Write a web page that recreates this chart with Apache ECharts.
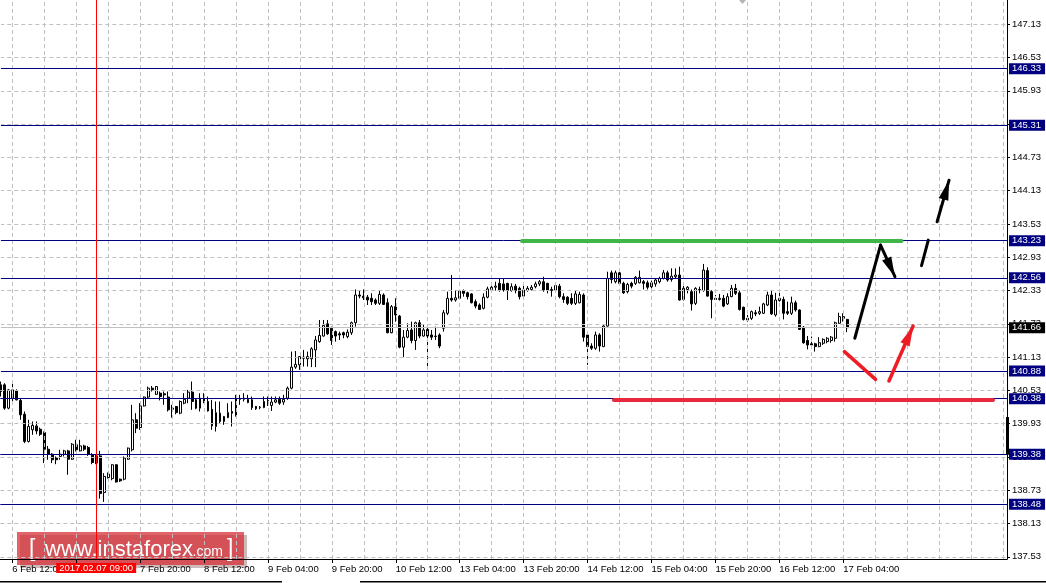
<!DOCTYPE html>
<html>
<head>
<meta charset="utf-8">
<script src="https://cdn.jsdelivr.net/npm/echarts@6.0.0/dist/echarts.min.js"></script>
<style>
html,body{margin:0;padding:0;background:#fff;overflow:hidden}
#chart{width:1046px;height:583px}
</style>
</head>
<body>
<div id="chart"></div>
<script>
// ---------------- data ----------------
const startHourUTC = Date.UTC(2017, 1, 6, 9, 0);   // first H1 bar: 2017.02.06 09:00
const slotCount = 253;                              // bars + empty future slots
const opens = [140.63,140.63,140.21,140.39,140.52,140.35,140.10,139.61,139.82,139.89,
139.83,139.77,139.47,139.38,139.32,139.34,139.38,139.44,139.29,139.55,
139.44,139.53,139.50,139.37,139.35,139.35,138.69,138.96,138.94,139.19,
138.93,138.93,139.29,139.46,140.00,139.86,140.25,140.41,140.57,140.46,
140.48,140.47,140.41,140.21,140.24,140.12,140.30,140.39,140.50,140.36,
140.21,140.40,140.33,140.19,139.88,140.12,139.97,140.04,140.15,140.07,
140.38,140.37,140.31,140.36,140.24,140.22,140.22,140.35,140.26,140.32,
140.37,140.32,140.39,140.57,140.95,140.99,141.13,141.10,141.10,141.26,
141.41,141.51,141.73,141.65,141.59,141.55,141.57,141.50,141.57,141.75,
142.25,142.23,142.21,142.19,142.16,142.10,142.25,142.11,141.57,142.04,
141.87,141.31,141.49,141.62,141.43,141.75,141.51,141.63,141.53,141.50,
141.53,141.65,141.92,142.19,142.16,142.19,142.33,142.29,142.27,142.13,
142.07,142.01,142.21,142.35,142.39,142.46,142.45,142.46,142.33,142.41,
142.37,142.23,142.33,142.35,142.40,142.45,142.49,142.46,142.35,142.34,
142.41,142.22,142.21,142.19,142.10,142.11,142.25,141.53,141.33,141.29,
141.53,141.32,141.69,142.65,142.49,142.65,142.46,142.31,142.46,142.46,
142.47,142.49,142.47,142.40,142.45,142.49,142.55,142.65,142.53,142.58,
142.61,142.17,142.35,142.31,142.10,142.34,142.33,142.69,142.31,142.19,
142.17,142.19,142.09,142.22,142.37,142.29,142.03,141.83,141.83,141.93,
141.92,141.92,142.07,142.25,141.89,142.15,142.17,141.95,141.92,142.11,
141.98,141.67,141.43,141.37,141.37,141.32,141.38,141.41,141.43,141.47,
141.74,141.86,141.81];
const closes = [140.51,140.21,140.54,140.54,140.36,140.09,139.61,139.88,139.90,139.80,
139.74,139.47,139.38,139.28,139.28,139.38,139.44,139.29,139.56,139.46,
139.53,139.47,139.38,139.23,139.22,138.67,138.98,139.02,139.19,138.88,
138.90,139.31,139.49,140.00,139.85,140.25,140.41,140.57,140.54,140.60,
140.42,140.45,140.18,140.19,140.13,140.33,140.37,140.50,140.33,140.21,
140.39,140.33,140.16,139.89,140.13,139.97,140.06,140.13,140.12,140.38,
140.37,140.39,140.37,140.22,140.20,140.23,140.33,140.27,140.32,140.36,
140.30,140.37,140.57,140.95,141.00,141.14,141.11,141.14,141.28,141.44,
141.52,141.70,141.55,141.43,141.51,141.53,141.53,141.58,141.75,142.25,
142.23,142.20,142.16,142.13,142.10,142.26,142.08,141.57,142.04,141.89,
141.31,141.49,141.61,141.43,141.75,141.51,141.62,141.51,141.49,141.51,
141.33,141.93,142.19,142.16,142.20,142.32,142.28,142.22,142.11,142.05,
141.99,142.21,142.36,142.39,142.41,142.34,142.34,142.33,142.40,142.33,
142.22,142.34,142.37,142.39,142.45,142.49,142.34,142.34,142.33,142.42,
142.22,142.17,142.10,142.10,142.27,142.26,141.49,141.32,141.29,141.53,
141.33,141.69,142.55,142.53,142.65,142.46,142.29,142.44,142.41,142.57,
142.57,142.46,142.39,142.47,142.52,142.55,142.65,142.52,142.59,142.61,
142.16,142.37,142.39,142.09,142.37,142.35,142.70,142.23,142.17,142.17,
142.19,142.05,142.22,142.37,142.28,141.99,141.81,141.80,141.95,141.91,
141.95,142.09,142.25,141.91,142.16,142.19,141.92,141.92,142.11,141.98,
141.63,141.39,141.35,141.35,141.32,141.39,141.45,141.47,141.49,141.75,
141.86,141.83,141.66];
const lows = [140.42,140.18,140.19,140.30,140.35,140.00,139.58,139.59,139.73,139.74,
139.71,139.22,139.28,139.22,139.20,139.28,139.34,139.01,139.28,139.43,
139.43,139.44,139.35,139.20,139.20,138.58,138.52,138.94,138.91,138.87,
138.88,138.91,139.28,139.43,139.76,139.82,140.24,140.39,140.51,140.45,
140.35,140.27,140.15,140.04,140.10,140.10,140.28,140.30,140.18,140.19,
140.15,140.30,140.15,139.82,139.79,139.94,139.91,140.03,139.88,140.06,
140.27,140.33,140.30,140.18,140.18,140.19,140.21,140.25,140.16,140.30,
140.27,140.27,140.36,140.55,140.92,140.90,140.96,140.96,140.95,140.95,
141.39,141.50,141.53,141.35,141.41,141.44,141.47,141.47,141.53,141.68,
142.19,142.16,142.07,142.07,142.07,142.07,142.07,141.56,141.56,141.77,
141.29,141.13,141.47,141.38,141.26,141.47,141.50,140.96,141.44,141.44,
141.29,141.59,141.89,142.13,142.13,142.16,142.22,142.17,142.10,142.01,
141.98,141.99,142.19,142.33,142.33,142.31,142.31,142.16,142.31,142.28,
142.17,142.21,142.31,142.33,142.37,142.41,142.31,142.28,142.22,142.31,
142.19,142.11,142.07,142.07,142.07,142.10,141.41,140.99,141.26,141.26,
141.23,141.31,141.68,142.46,142.46,142.43,142.27,142.28,142.37,142.43,
142.46,142.35,142.35,142.37,142.40,142.46,142.53,142.49,142.49,142.55,
142.15,142.15,142.28,141.97,142.07,142.28,142.31,142.22,141.83,142.16,
142.15,142.03,142.07,142.21,142.25,141.97,141.79,141.77,141.80,141.87,
141.89,141.91,142.05,141.89,141.86,142.13,141.81,141.89,141.89,141.95,
141.62,141.37,141.27,141.32,141.23,141.31,141.35,141.38,141.39,141.41,
141.73,141.77,141.58];
const highs = [140.69,140.66,140.55,140.66,140.55,140.39,140.15,140.00,139.97,139.97,
139.86,139.79,139.53,139.40,139.34,139.46,139.46,139.46,139.58,139.64,
139.64,139.55,139.53,139.40,139.37,139.44,139.04,139.05,139.20,139.20,
138.94,139.34,139.50,140.27,140.12,140.30,140.42,140.60,140.61,140.61,
140.51,140.51,140.51,140.27,140.25,140.35,140.48,140.54,140.69,140.39,
140.48,140.48,140.42,140.36,140.33,140.33,140.07,140.30,140.33,140.45,
140.45,140.48,140.45,140.42,140.25,140.25,140.42,140.42,140.42,140.42,
140.42,140.45,140.60,141.23,141.24,141.15,141.26,141.23,141.31,141.51,
141.80,141.80,141.80,141.68,141.61,141.59,141.59,141.63,141.77,142.35,
142.34,142.35,142.25,142.28,142.19,142.33,142.28,142.19,142.07,142.19,
141.89,141.62,141.74,141.77,141.77,141.80,141.71,141.68,141.62,141.68,
141.56,141.98,142.31,142.61,142.34,142.34,142.35,142.31,142.28,142.17,
142.10,142.28,142.40,142.46,142.49,142.55,142.55,142.47,142.46,142.45,
142.40,142.43,142.41,142.43,142.49,142.52,142.58,142.47,142.40,142.45,
142.45,142.28,142.23,142.28,142.34,142.31,142.28,141.56,141.38,141.59,
141.56,141.71,142.67,142.69,142.69,142.70,142.49,142.47,142.49,142.59,
142.69,142.52,142.51,142.51,142.55,142.58,142.70,142.69,142.73,142.73,
142.76,142.46,142.41,142.35,142.39,142.40,142.81,142.75,142.34,142.25,
142.27,142.25,142.28,142.43,142.45,142.33,142.04,141.89,141.97,141.98,
142.04,142.11,142.31,142.34,142.29,142.31,142.22,142.13,142.22,142.15,
141.99,141.69,141.51,141.50,141.39,141.49,141.47,141.49,141.51,141.77,
141.93,141.92,141.82];
const yTicks = [137.53,138.13,138.73,139.33,139.93,140.53,141.13,141.73,142.33,
142.93,143.53,144.13,144.73,145.33,145.93,146.53,147.13];
const levelLines = [146.33, 145.31, 143.23, 142.56, 140.88, 140.38, 139.38, 138.48];
const currentPrice = 141.66;
const crosshairIndex = 24;
const yRange = [137.491, 147.568];
// hand-drawn annotations, points as [bar index, price]
const greenLevel = [[130.6, 143.23], [225.6, 143.23]];
const redLevel = [[153.6, 140.37], [248.5, 140.37]];
const blackPath = [[213.9, 141.47], [220.35, 143.15], [223.95, 142.58]];
const blackDash = [[230.6, 142.78], [232.3, 143.24]];
const blackArrow2 = [[234.5, 143.57], [237.5, 144.32]];
const redSeg = [[211.3, 141.23], [219.1, 140.73]];
const redArrow = [[222.45, 140.70], [228.5, 141.69]];
const spreadBar = [140.05, 139.37];

// ---------------- build ----------------
const MONTHS = ['Jan','Feb','Mar','Apr','May','Jun','Jul','Aug','Sep','Oct','Nov','Dec'];
function pad(n){ return (n < 10 ? '0' : '') + n; }
const times = [];
for (let t = startHourUTC; times.length < slotCount; t += 3600000) {
  const wd = new Date(t).getUTCDay();
  if (wd !== 0 && wd !== 6) times.push(t);
}
const categories = times.map(t => {
  const d = new Date(t);
  return d.getUTCDate() + ' ' + MONTHS[d.getUTCMonth()] + ' ' + pad(d.getUTCHours()) + ':' + pad(d.getUTCMinutes());
});
function fullStamp(t) {
  const d = new Date(t);
  return d.getUTCFullYear() + '.' + pad(d.getUTCMonth() + 1) + '.' + pad(d.getUTCDate()) + ' ' +
    pad(d.getUTCHours()) + ':' + pad(d.getUTCMinutes());
}
const lastBar = opens.length - 1;
const candleData = opens.map((o, i) => [o, closes[i], lows[i], highs[i]]);
// vertical grid every 8 bars, aligned with the time labels
const xGridIdx = [];
for (let i = 3; i < slotCount; i += 8) xGridIdx.push(i);

const FONT = 'Liberation Sans';
const FS = 9.5;

function seg(p, q, color, width, arrow) {
  const a = { coord: p, lineStyle: { color: color, width: width, type: 'solid', cap: 'round' } };
  const b = { coord: q };
  if (arrow) {
    b.symbol = 'path://M5,0 L10,20 L0,20 Z';
    b.symbolSize = [10, 20];
    b.symbolOffset = [0, 10];
  }
  return [a, b];
}

const chart = echarts.init(document.getElementById('chart'), null, { renderer: 'canvas' });
const option = {
  animation: false,
  backgroundColor: '#ffffff',
  textStyle: { fontFamily: FONT },
  grid: { left: 0.3, right: 39, top: 0, bottom: 24, containLabel: false },
  xAxis: [{
    type: 'category', data: categories, boundaryGap: false,
    axisLine: { show: true, onZero: false, lineStyle: { color: '#000', width: 1 } },
    axisTick: { show: true, length: 4, lineStyle: { color: '#000' },
      interval: (i) => (i - 3) % 16 === 0 && i <= lastBar },
    axisLabel: { show: true, color: '#000', fontSize: FS, fontFamily: FONT, align: 'left', margin: 5,
      interval: (i) => (i - 3) % 16 === 0 && i <= lastBar },
    splitLine: { show: false }
  }, {
    type: 'value', min: 0, max: slotCount - 1, show: false,
    axisLine: { show: false, onZero: false },
    splitLine: { show: false }
  }],
  yAxis: {
    type: 'value', position: 'right', min: yRange[0], max: yRange[1], scale: true,
    axisLine: { show: true, onZero: false, lineStyle: { color: '#000', width: 1 } },
    axisTick: { show: true, length: 3, customValues: yTicks, lineStyle: { color: '#000' } },
    axisLabel: { show: true, customValues: yTicks, color: '#000', fontSize: FS, fontFamily: FONT, margin: 5,
      formatter: v => Number(v).toFixed(2) },
    splitLine: { show: false }
  },
  series: [
    { // price/time grid + current price line
      type: 'line', xAxisIndex: 1, yAxisIndex: 0, data: [], z: 1, silent: true,
      markLine: {
        silent: true, symbol: 'none', animation: false,
        lineStyle: { color: '#c0c0c0', type: [4, 3], width: 1 },
        label: { show: false },
        emphasis: { disabled: true },
        data: yTicks.map(v => ({ yAxis: v }))
          .concat(xGridIdx.map(i => ({ xAxis: i })))
          .concat([{
          yAxis: currentPrice,
          lineStyle: { color: '#c0c0c0', type: 'solid', width: 1 },
          label: { show: true, position: 'end', distance: 2, formatter: () => currentPrice.toFixed(2),
            backgroundColor: '#000', color: '#fff', fontSize: FS, fontFamily: FONT,
            padding: [1, 4, 0, 3], lineHeight: 10 }
        }])
      }
    },
    {
      type: 'candlestick', xAxisIndex: 0, yAxisIndex: 0, z: 2, data: candleData,
      barWidth: 2.4, silent: true,
      itemStyle: { color: '#ffffff', color0: '#000000', borderColor: '#000000', borderColor0: '#000000', borderWidth: 1 }
    },
    { // horizontal levels and crosshair
      type: 'line', xAxisIndex: 1, yAxisIndex: 0, data: [], z: 3, silent: true,
      markLine: {
        silent: true, symbol: 'none', animation: false,
        emphasis: { disabled: true },
        lineStyle: { color: '#000080', type: 'solid', width: 1 },
        label: { show: true, position: 'end', distance: 2,
          formatter: p => Number(p.value).toFixed(2),
          backgroundColor: '#000080', color: '#fff', fontSize: FS, fontFamily: FONT,
          padding: [1, 4, 0, 3], lineHeight: 10 },
        data: levelLines.map(v => ({ yAxis: v })).concat([{
          xAxis: crosshairIndex,
          lineStyle: { color: '#ff0000', width: 1, type: 'solid' },
          label: { show: true, position: 'start', distance: 4,
            formatter: () => fullStamp(times[crosshairIndex]),
            backgroundColor: '#ff0000', color: '#fff', fontSize: FS, fontFamily: FONT,
            padding: [1, 3, 0, 3], lineHeight: 9 }
        }])
      }
    },
    { // hand-drawn annotations
      type: 'line', xAxisIndex: 1, yAxisIndex: 0, data: [], z: 4, silent: true,
      markLine: {
        silent: true, symbol: 'none', animation: false,
        emphasis: { disabled: true },
        label: { show: false },
        data: [
          seg(greenLevel[0], greenLevel[1], '#3fb54a', 4, false),
          seg(redLevel[0], redLevel[1], '#e8283c', 4, false),
          seg(blackPath[0], blackPath[1], '#000000', 3, false),
          seg(blackPath[1], blackPath[2], '#000000', 3, true),
          seg(blackDash[0], blackDash[1], '#000000', 3, false),
          seg(blackArrow2[0], blackArrow2[1], '#000000', 3, true),
          seg(redSeg[0], redSeg[1], '#ee1c25', 3.5, false),
          seg(redArrow[0], redArrow[1], '#ee1c25', 3.5, true)
        ]
      }
    }
  ]
};
chart.setOption(option);

// decorations
const barTop = chart.convertToPixel({ yAxisIndex: 0 }, spreadBar[0]);
const barBot = chart.convertToPixel({ yAxisIndex: 0 }, spreadBar[1]);
const firstHighY = chart.convertToPixel({ yAxisIndex: 0 }, highs[0]);
chart.setOption({
  graphic: [
    { type: 'rect', shape: { x: 0, y: 0, width: 0.9, height: firstHighY - 2 }, style: { fill: '#fff' }, z: 9 },
    { type: 'rect', shape: { x: 1006, y: barTop, width: 3, height: barBot - barTop }, style: { fill: '#000' }, z: 10 },
    { type: 'polygon', shape: { points: [[739, 0], [746, 0], [742.5, 4]] }, style: { fill: '#b4b4b4' }, z: 10 },
    { type: 'rect', shape: { x: 0, y: 581, width: 282, height: 1.5 }, style: { fill: '#000' }, z: 10 },
    { type: 'rect', shape: { x: 360, y: 581, width: 686, height: 1.5 }, style: { fill: '#000' }, z: 10 },
    { type: 'group', left: 17, top: 532, z: 5, children: [
      { type: 'rect', shape: { x: 3, y: 3, width: 227, height: 33 }, style: { fill: 'rgba(90,30,30,0.3)' } },
      { type: 'rect', shape: { x: 0, y: 0, width: 227, height: 33 }, style: { fill: 'rgba(214,40,48,0.72)' } },
      { type: 'text', x: 12, y: 18, style: { text: '[', fill: '#fff', font: '300 23px "Liberation Sans"', verticalAlign: 'middle' } },
      { type: 'text', x: 28, y: 18, style: { text: 'www.instaforex', fill: '#fff', font: '22px "Liberation Sans"', verticalAlign: 'middle' } },
      { type: 'text', x: 175.5, y: 20.5, style: { text: '.com', fill: '#fff', font: '14px "Liberation Sans"', verticalAlign: 'middle' } },
      { type: 'text', x: 210, y: 18, style: { text: ']', fill: '#fff', font: '300 23px "Liberation Sans"', verticalAlign: 'middle' } }
    ] }
  ]
});
</script>
</body>
</html>
